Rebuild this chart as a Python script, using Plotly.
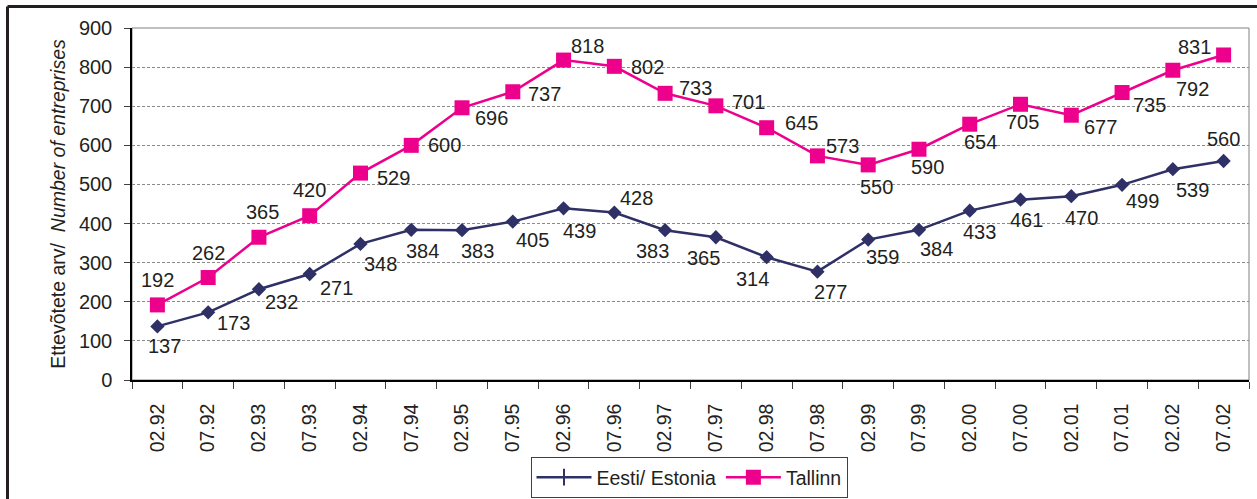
import plotly.graph_objects as go

# ---------------- data ----------------
categories = ["02.92", "07.92", "02.93", "07.93", "02.94", "07.94", "02.95", "07.95",
              "02.96", "07.96", "02.97", "07.97", "02.98", "07.98", "02.99", "07.99",
              "02.00", "07.00", "02.01", "07.01", "02.02", "07.02"]
estonia = [137, 173, 232, 271, 348, 384, 383, 405, 439, 428, 383, 365, 314, 277,
           359, 384, 433, 461, 470, 499, 539, 560]
tallinn = [192, 262, 365, 420, 529, 600, 696, 737, 818, 802, 733, 701, 645, 573,
           550, 590, 654, 705, 677, 735, 792, 831]
y_ticks = [0, 100, 200, 300, 400, 500, 600, 700, 800, 900]

# ---------------- label offsets (px, +dy = down) ----------------
tallinn_off = [(0, -25), (0, -25), (4, -25), (0, -26), (33, 5), (33, 0), (29, 10), (32, 2),
               (24, -14), (33, 1), (30, -5), (33, -4), (35, -5), (25, -10), (8, 22), (9, 18),
               (11, 18), (2, 18), (29, 12), (27, 12), (20, 19), (-29, -8)]
estonia_off = [(7, 20), (25, 11), (23, 13), (27, 14), (20, 20), (11, 21), (15, 21), (20, 18),
               (16, 23), (22, -15), (-13, 21), (-12, 21), (-14, 22), (13, 20), (14, 17), (18, 19),
               (10, 21), (6, 20), (10, 22), (20, 16), (20, 21), (0, -22)]

NAVY = "#2E3066"
MAGENTA = "#EC008C"
TXT = "#231F20"
FONT = "Liberation Sans, Arial, sans-serif"

fig = go.Figure()

fig.add_trace(go.Scatter(
    x=categories, y=estonia, mode="lines+markers", name="Eesti/ Estonia",
    line=dict(color=NAVY, width=2.5),
    marker=dict(symbol="diamond", size=11, color=NAVY),
    showlegend=False, cliponaxis=False,
))
fig.add_trace(go.Scatter(
    x=[categories[0]], y=[None], mode="lines+markers", name="Eesti/ Estonia",
    line=dict(color=NAVY, width=2.5),
    marker=dict(symbol="line-ns", size=12, color=NAVY, line=dict(color=NAVY, width=2)),
))
fig.add_trace(go.Scatter(
    x=categories, y=tallinn, mode="lines+markers", name="Tallinn",
    line=dict(color=MAGENTA, width=2.5),
    marker=dict(symbol="square", size=15, color=MAGENTA),
    cliponaxis=False,
))

LABEL_FONT = dict(family=FONT, size=20, color=TXT)
annotations = []
for i, (val, (dx, dy)) in enumerate(zip(tallinn, tallinn_off)):
    annotations.append(dict(x=i, y=val, xref="x", yref="y", text=str(val), showarrow=False,
                            xshift=dx, yshift=-dy, font=LABEL_FONT))
for i, (val, (dx, dy)) in enumerate(zip(estonia, estonia_off)):
    annotations.append(dict(x=i, y=val, xref="x", yref="y", text=str(val), showarrow=False,
                            xshift=dx, yshift=-dy, font=LABEL_FONT))

L, R, T, B, W, H = 132, 8, 28, 119, 1257, 499
PW, PH = W - L - R, H - T - B
def px(x):
    return (x - L) / PW
def py(y):
    return (H - B - y) / PH

shapes = [
    dict(type="rect", xref="paper", yref="paper", x0=0, x1=1, y0=0, y1=1,
         line=dict(color="#808080", width=1), layer="between"),
    dict(type="line", xref="paper", yref="paper", x0=px(7.5), x1=px(1265), y0=py(6.5), y1=py(6.5),
         line=dict(color=TXT, width=3)),
    dict(type="line", xref="paper", yref="paper", x0=px(7.5), x1=px(7.5), y0=py(6.5), y1=py(510),
         line=dict(color=TXT, width=3)),
]

fig.update_layout(
    width=W, height=H,
    margin=dict(l=L, r=R, t=T, b=B, autoexpand=False),
    paper_bgcolor="white", plot_bgcolor="white",
    font=dict(family=FONT, size=19, color=TXT),
    showlegend=True,
    legend=dict(orientation="h", xanchor="center", x=px(689), yanchor="top", y=py(457),
                bordercolor="#404040", borderwidth=1, bgcolor="white",
                font=dict(family=FONT, size=19.5, color=TXT), itemwidth=55, tracegroupgap=0),
    annotations=annotations,
    shapes=shapes,
)
fig.update_xaxes(
    type="category", categoryorder="array", categoryarray=categories,
    range=[-0.5, len(categories) - 0.5], autorange=False, automargin=False,
    showline=True, linecolor="#000000", linewidth=1.5,
    ticks="outside", ticklen=7, tickcolor="#404040", tickson="boundaries", ticklabelstandoff=14,
    tickangle=-90, tickfont=dict(family=FONT, size=19.5, color=TXT),
    showgrid=False, zeroline=False,
)
fig.update_yaxes(
    range=[0, 900], autorange=False, automargin=False, tickvals=y_ticks,
    showline=True, linecolor="#000000", linewidth=1.5,
    ticks="outside", ticklen=6, tickcolor="#404040", ticklabelstandoff=8,
    tickfont=dict(family=FONT, size=20, color=TXT),
    showgrid=True, gridcolor="#8a8a8a", gridwidth=1, griddash="3px,2px", zeroline=False,
    title=dict(text="Ettevõtete arv/  <i>Number of entreprises</i>",
               font=dict(family=FONT, size=19.5, color=TXT), standoff=8),
)

fig.write_html("out.html", config={"displayModeBar": False},
               post_script="document.body.style.margin='0';")
